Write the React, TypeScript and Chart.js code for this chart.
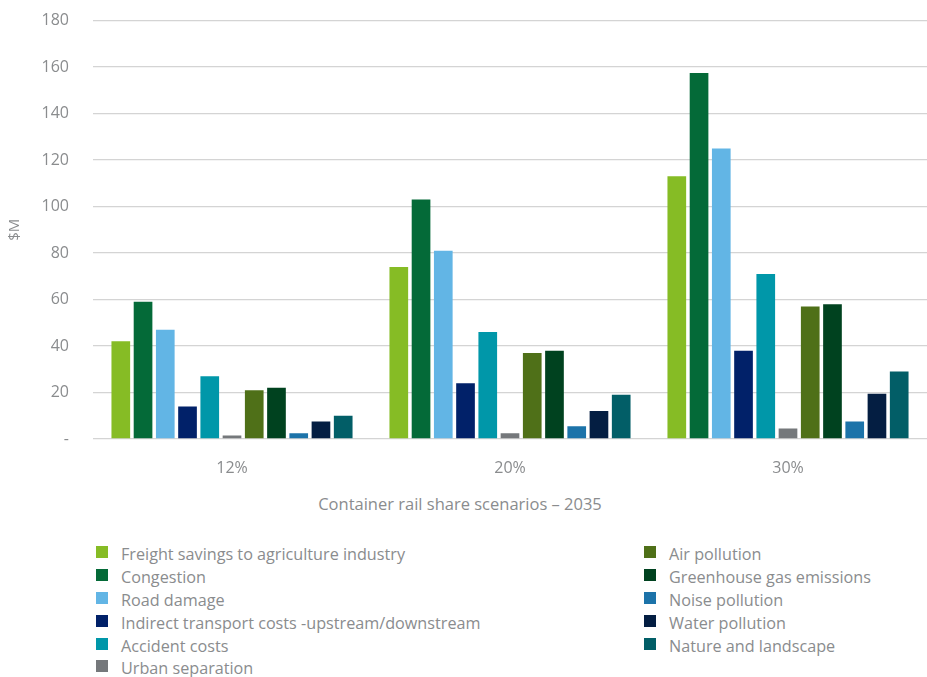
import React, { useEffect, useRef } from "react";
import { Chart, registerables } from "chart.js";

Chart.register(...registerables);

const categories = ["12%", "20%", "30%"];
const seriesNames = [
  "Freight savings to agriculture industry",
  "Congestion",
  "Road damage",
  "Indirect transport costs -upstream/downstream",
  "Accident costs",
  "Urban separation",
  "Air pollution",
  "Greenhouse gas emissions",
  "Noise pollution",
  "Water pollution",
  "Nature and landscape",
];
const seriesColors = [
  "#86BC25",
  "#046A38",
  "#62B5E5",
  "#012169",
  "#0097A9",
  "#75787B",
  "#4F7018",
  "#00421F",
  "#1C73A9",
  "#041E42",
  "#025E67",
];
const freightSavings = [42, 74, 113];
const congestion = [59, 103, 157.5];
const roadDamage = [47, 81, 125];
const indirectCosts = [14, 24, 38];
const accidentCosts = [27, 46, 71];
const urbanSeparation = [1.5, 2.5, 4.5];
const airPollution = [21, 37, 57];
const greenhouseGas = [22, 38, 58];
const noisePollution = [2.5, 5.5, 7.5];
const waterPollution = [7.5, 12, 19.5];
const natureLandscape = [10, 19, 29];
const seriesValues = [
  freightSavings,
  congestion,
  roadDamage,
  indirectCosts,
  accidentCosts,
  urbanSeparation,
  airPollution,
  greenhouseGas,
  noisePollution,
  waterPollution,
  natureLandscape,
];
const yTickValues = [0, 20, 40, 60, 80, 100, 120, 140, 160, 180];
const yAxisTitle = "$M";
const xAxisTitle = "Container rail share scenarios \u2013 2035";

const FONT = "'Open Sans', 'Noto Sans', sans-serif";
const TEXT = "#8a8c8e";

export default function App() {
  const ref = useRef<HTMLCanvasElement | null>(null);

  useEffect(() => {
    if (!ref.current) return;
    const chart = new Chart(ref.current, {
      type: "bar",
      data: {
        labels: categories,
        datasets: seriesNames.map((name, i) => ({
          label: name,
          data: seriesValues[i],
          backgroundColor: seriesColors[i],
          borderWidth: 0,
          categoryPercentage: 0.88,
          barPercentage: 0.84,
        })),
      },
      options: {
        animation: false,
        responsive: false,
        maintainAspectRatio: false,
        layout: { padding: { top: 6, right: 0, bottom: 0, left: 0 } },
        plugins: {
          legend: { display: false },
          tooltip: { enabled: false },
        },
        scales: {
          x: {
            grid: { display: false, drawTicks: false },
            border: { display: false },
            ticks: {
              color: TEXT,
              font: { family: FONT, size: 16 },
              padding: 20,
            },
            afterFit: (scale: any) => {
              scale.height = 46;
            },
          },
          y: {
            min: 0,
            max: 180,
            afterBuildTicks: (axis: any) => {
              axis.ticks = yTickValues.map((v) => ({ value: v }));
            },
            grid: {
              color: "#d4d4d4",
              lineWidth: 1.3,
              drawTicks: false,
            },
            border: { display: false },
            ticks: {
              color: TEXT,
              font: { family: FONT, size: 16 },
              padding: 24,
              callback: (v: any) => (Number(v) === 0 ? "-" : String(v)),
            },
            title: {
              display: true,
              text: yAxisTitle,
              color: TEXT,
              font: { family: FONT, size: 15 },
              padding: { top: 6, bottom: 0 },
            },
            afterFit: (scale: any) => {
              scale.width = 93;
            },
          },
        },
      },
    });
    return () => chart.destroy();
  }, []);

  const leftCol = seriesNames.slice(0, 6).map((n, i) => ({ n, c: seriesColors[i] }));
  const rightCol = seriesNames.slice(6).map((n, i) => ({ n, c: seriesColors[i + 6] }));

  const item = (n: string, c: string) => (
    <div
      key={n}
      style={{ display: "flex", alignItems: "center", height: 22.8 }}
    >
      <span
        style={{
          display: "inline-block",
          width: 12,
          height: 12,
          background: c,
          marginRight: 13,
          marginTop: -4,
        }}
      />
      <span>{n}</span>
    </div>
  );

  return (
    <div
      style={{
        position: "absolute",
        left: 0,
        top: 0,
        width: 927,
        height: 677,
        background: "#fff",
        fontFamily: FONT,
        color: TEXT,
        overflow: "hidden",
      }}
    >
      <canvas
        ref={ref}
        width={927}
        height={498}
        style={{ display: "block", position: "absolute", left: 0, top: -13 }}
      />
      <div
        style={{
          position: "absolute",
          top: 493,
          left: 0,
          width: 920,
          textAlign: "center",
          fontSize: 16.5,
          lineHeight: "22px",
        }}
      >
        {xAxisTitle}
      </div>
      <div
        style={{
          position: "absolute",
          top: 543,
          left: 96,
          fontSize: 16.2,
          lineHeight: "20px",
        }}
      >
        {leftCol.map((d) => item(d.n, d.c))}
      </div>
      <div
        style={{
          position: "absolute",
          top: 543,
          left: 644,
          fontSize: 16.2,
          lineHeight: "20px",
        }}
      >
        {rightCol.map((d) => item(d.n, d.c))}
      </div>
    </div>
  );
}
